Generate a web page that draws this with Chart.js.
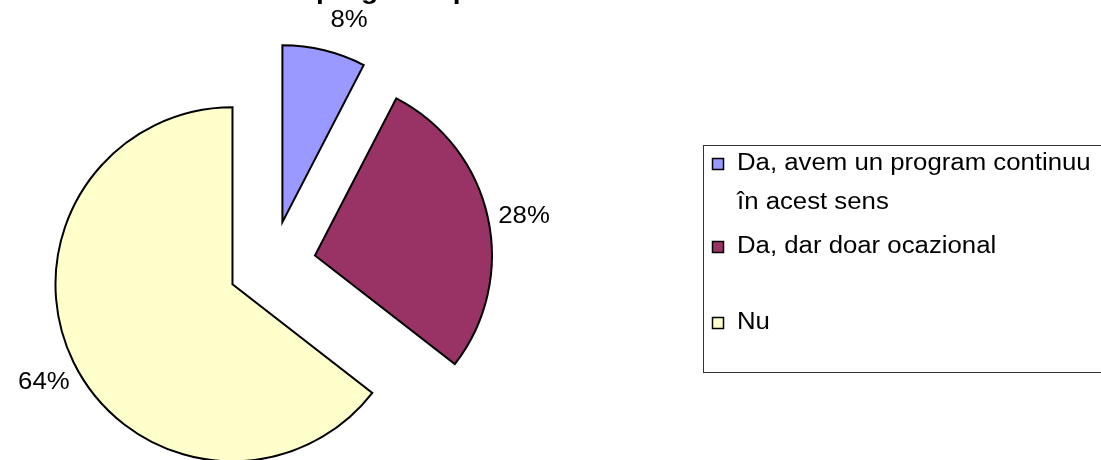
<!DOCTYPE html>
<html>
<head>
<meta charset="utf-8">
<script src="https://cdn.jsdelivr.net/npm/chart.js@4/dist/chart.umd.min.js"></script>
<style>
  html, body { margin: 0; padding: 0; background: #ffffff; }
  #wrap { width: 1101px; height: 460px; position: relative; }
  canvas { display: block; }
</style>
</head>
<body>
<div id="wrap"><canvas id="chart" width="1101" height="460"></canvas></div>
<script>
// ---- data ----
const categories = ['Da, avem un program continuu în acest sens', 'Da, dar doar ocazional', 'Nu'];
const legendLines = [['Da, avem un program continuu', 'în acest sens'], ['Da, dar doar ocazional'], ['Nu']];
const values = [7.6, 27.9, 64.5];
const percentLabels = ['8%', '28%', '64%'];
const sliceColors = ['#9999FF', '#993366', '#FFFFCC'];
const titleText = 'Aveti programe pentru tineri?';

// ---- layout / style constants ----
const FONT = '"Liberation Sans", Arial, sans-serif';
const TEXT_STRETCH = 1.12;
const EXPLODE = 44;
const PIE_RADIUS = 177;
const LABEL_GAP = 33;
const LABEL_NUDGE = [[17, 2], [4, 6], [0, 6]];
const LEGEND_BOX = { x: 703.5, y: 145.5, w: 420, h: 227 };
const LEGEND_SWATCH_X = 712;
const LEGEND_TEXT_X = 737;
const LEGEND_ROWS = [[164, 203], [247], [323]];
const SWATCH = 12;

function stretchText(ctx, text, x, y, align, stretch) {
  ctx.save();
  ctx.translate(x, y);
  ctx.scale(stretch, 1);
  ctx.textAlign = align;
  ctx.fillText(text, 0, 0);
  ctx.restore();
}

const explodePlugin = {
  id: 'explode',
  afterDatasetsUpdate(chart) {
    const meta = chart.getDatasetMeta(0);
    meta.data.forEach(arc => {
      const mid = (arc.startAngle + arc.endAngle) / 2;
      arc.x += Math.cos(mid) * EXPLODE;
      arc.y += Math.sin(mid) * EXPLODE;
    });
  }
};

const decorPlugin = {
  id: 'decor',
  afterDraw(chart) {
    const ctx = chart.ctx;
    const meta = chart.getDatasetMeta(0);
    ctx.save();
    ctx.fillStyle = '#000';
    // percentage labels
    ctx.font = '23px ' + FONT;
    ctx.textBaseline = 'middle';
    meta.data.forEach((arc, i) => {
      const mid = (arc.startAngle + arc.endAngle) / 2;
      const r = arc.outerRadius + LABEL_GAP;
      const x = arc.x + Math.cos(mid) * r + LABEL_NUDGE[i][0];
      const y = arc.y + Math.sin(mid) * r + LABEL_NUDGE[i][1];
      stretchText(ctx, percentLabels[i], x, y, 'center', TEXT_STRETCH);
    });
    // title (clipped at top of picture)
    ctx.font = 'bold 25px ' + FONT;
    ctx.textBaseline = 'alphabetic';
    stretchText(ctx, titleText, 437, -1, 'center', TEXT_STRETCH);
    // legend
    ctx.strokeStyle = '#333';
    ctx.lineWidth = 1;
    ctx.strokeRect(LEGEND_BOX.x, LEGEND_BOX.y, LEGEND_BOX.w, LEGEND_BOX.h);
    ctx.font = '23px ' + FONT;
    ctx.textBaseline = 'middle';
    legendLines.forEach((lines, i) => {
      const rows = LEGEND_ROWS[i];
      ctx.fillStyle = sliceColors[i];
      ctx.fillRect(LEGEND_SWATCH_X, rows[0] - SWATCH / 2, SWATCH, SWATCH);
      ctx.strokeStyle = '#000';
      ctx.lineWidth = 1.5;
      ctx.strokeRect(LEGEND_SWATCH_X + 0.5, rows[0] - SWATCH / 2 + 0.5, SWATCH - 1, SWATCH - 1);
      ctx.fillStyle = '#000';
      lines.forEach((line, j) => {
        stretchText(ctx, line, LEGEND_TEXT_X, rows[j], 'left', TEXT_STRETCH);
      });
    });
    ctx.restore();
  }
};

new Chart(document.getElementById('chart'), {
  type: 'pie',
  data: {
    labels: categories,
    datasets: [{
      data: values,
      backgroundColor: sliceColors,
      borderColor: '#000000',
      borderWidth: 2,
      borderJoinStyle: 'miter'
    }]
  },
  options: {
    responsive: false,
    animation: false,
    events: [],
    radius: PIE_RADIUS,
    layout: { padding: { left: 0, right: 557, top: 70, bottom: 0 } },
    plugins: {
      legend: { display: false },
      title: { display: false },
      tooltip: { enabled: false }
    }
  },
  plugins: [explodePlugin, decorPlugin]
});
</script>
</body>
</html>
